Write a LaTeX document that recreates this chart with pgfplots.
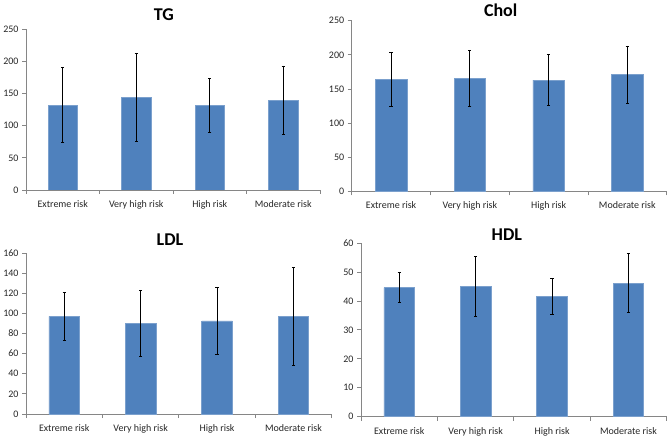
\documentclass[border=0pt]{standalone}
\usepackage{fontspec}
\setmainfont{Carlito}
\usepackage{pgfplots}
\pgfplotsset{compat=1.18}
\definecolor{barblue}{HTML}{4F81BD}
\definecolor{axgray}{HTML}{868686}
\begin{document}
\begin{tikzpicture}
\useasboundingbox (0pt,0pt) rectangle (669pt,436pt);
\pgfplotsset{panel/.style={
  scale only axis, anchor=south west,
  axis lines*=left, axis line style={draw=axgray, line width=0.8pt},
  xmin=-0.5, xmax=3.5, ymin=0, enlargelimits=false,
  xtick={0,1,2,3}, xticklabels={Extreme risk, Very high risk, High risk, Moderate risk},
  every major x tick/.append style={draw=none},
  minor xtick={-0.5,0.5,1.5,2.5,3.5},
  every minor x tick/.append style={draw=axgray, line width=0.8pt},
  minor tick length=4pt, major tick length=4pt,
  tick align=outside,
  every major y tick/.append style={draw=axgray, line width=0.8pt},
  tick label style={font=\fontsize{10}{12}\selectfont, text=black!85},
  xticklabel style={yshift=-3pt},
  /pgf/number format/assume math mode=true,
  ybar, bar width=0.4,
  every axis title shift=0pt,
  title style={font=\fontsize{18}{20}\selectfont\bfseries, anchor=center},
}}
\pgfplotsset{barplot/.style={fill=barblue, draw=barblue!75!white, line width=0.6pt,
  error bars/.cd, y dir=both, y explicit,
  error bar style={black, line width=0.8pt},
  error mark options={rotate=90, mark size=1.6pt, black, line width=0.8pt}}}

\begin{axis}[panel, at={(26pt,246pt)}, width=294pt, height=160.7pt,
  ymax=250, ytick distance=50, title=TG, title style={at={(0.469,1.089)}}]
\addplot[barplot] coordinates {(0,132) +- (0,58) (1,144) +- (0,69) (2,131) +- (0,42) (3,140) +- (0,53)};
\end{axis}

\begin{axis}[panel, at={(351.7pt,244.7pt)}, width=315pt, height=170.6pt,
  ymax=250, ytick distance=50, title=Chol, title style={at={(0.473,1.063)}}]
\addplot[barplot] coordinates {(0,164) +- (0,40) (1,166) +- (0,41) (2,163) +- (0,37) (3,171) +- (0,42)};
\end{axis}

\begin{axis}[panel, at={(26pt,22pt)}, width=305.7pt, height=161pt,
  ymax=160, ytick distance=20, title=LDL, title style={at={(0.471,1.083)}}]
\addplot[barplot] coordinates {(0,97) +- (0,24) (1,90) +- (0,33) (2,92.5) +- (0,33) (3,97) +- (0,48.5)};
\end{axis}

\begin{axis}[panel, at={(361pt,19.3pt)}, width=305.7pt, height=173.7pt,
  ymax=60, ytick distance=10, title=HDL, title style={at={(0.477,1.048)}}]
\addplot[barplot] coordinates {(0,44.6) +- (0,5.2) (1,45) +- (0,10.2) (2,41.5) +- (0,6.3) (3,46.1) +- (0,10.2)};
\end{axis}
\end{tikzpicture}
\end{document}
